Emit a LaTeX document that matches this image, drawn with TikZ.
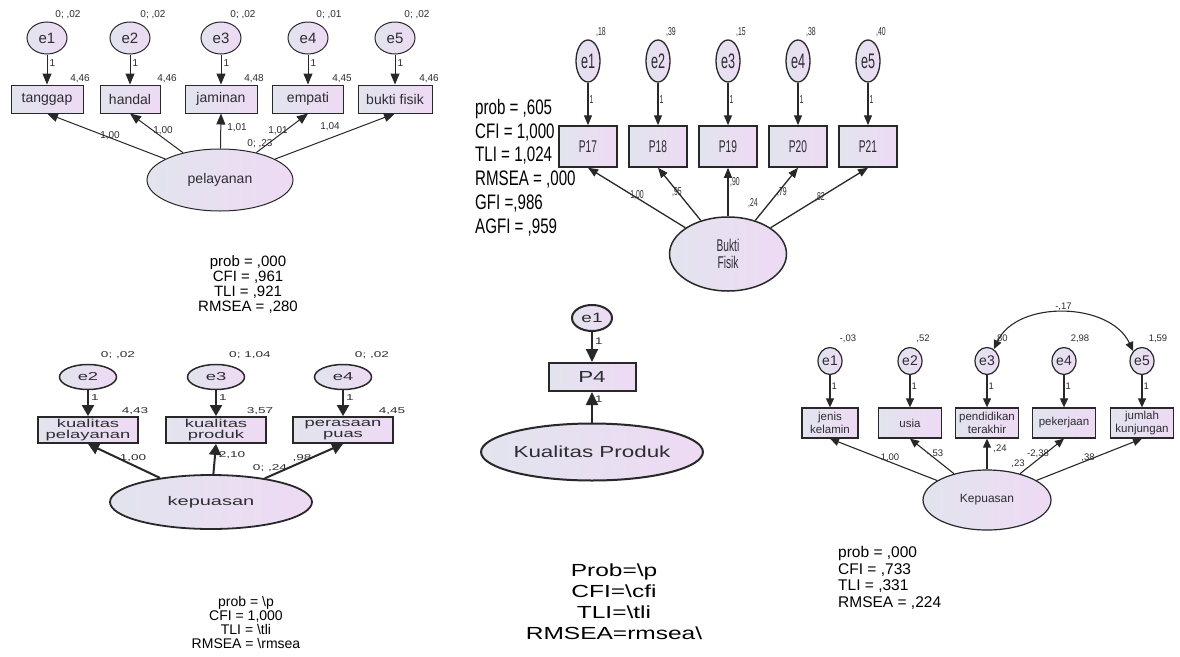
\documentclass[tikz,border=0pt]{standalone}
\usepackage{fontspec}
\setmainfont{Liberation Sans}
\newfontfamily\narrowfont[FakeStretch=0.72]{Liberation Sans}
\newfontfamily\condfont[FakeStretch=0.6]{Liberation Sans}
\newfontfamily\widefont[FakeStretch=1.6]{Liberation Sans}
\newfontfamily\semiwidefont[FakeStretch=1.4]{Liberation Sans}
\usepackage{xcolor}
\usetikzlibrary{arrows.meta,shapes.geometric}
\definecolor{fillL}{RGB}{226,228,238}
\definecolor{fillR}{RGB}{238,218,244}
\definecolor{ink}{RGB}{40,40,40}
\definecolor{txt}{RGB}{45,45,50}
\newcommand\fsz[2]{\fontsize{#1}{#2}\selectfont}

\begin{document}
\begin{tikzpicture}[
  x=1pt,y=-1pt,
  var/.style={ellipse,draw=ink,left color=fillL,right color=fillR,inner sep=0pt,text=txt},
  obs/.style={rectangle,draw=ink,left color=fillL,right color=fillR,inner sep=0pt,text=txt,align=center},
  num/.style={inner sep=0pt,text=txt},
  stats/.style={inner sep=0pt,text=black},
  errA/.style={var,line width=1pt,minimum width=40,minimum height=32,font=\fsz{15}{16}},
  obsA/.style={obs,line width=1pt,minimum height=28,font=\fsz{14}{15}},
  latA/.style={var,line width=1pt,minimum width=146,minimum height=62,font=\fsz{14}{15}},
  numA/.style={num,font=\fsz{10}{11}},
  edgeA/.style={-{Triangle[length=11pt,width=9pt]},line width=1pt,draw=ink},
  errB/.style={var,line width=1.3pt,minimum width=24,minimum height=42,font=\condfont\fsz{21}{22}},
  obsB/.style={obs,line width=1.5pt,minimum width=58,minimum height=41,font=\condfont\fsz{17}{18}},
  latB/.style={var,line width=1.5pt,minimum width=117,minimum height=74,align=center,font=\condfont\fsz{17}{17}},
  numB/.style={num,font=\condfont\fsz{11.5}{12}},
  edgeB/.style={-{Triangle[length=10pt,width=8pt]},line width=1.3pt,draw=ink},
  errC/.style={var,line width=1.5pt,minimum width=57,minimum height=25,font=\widefont\fsz{11.5}{12}},
  obsC/.style={obs,line width=1.8pt,minimum width=100,minimum height=26,font=\widefont\fsz{11.5}{11}},
  latC/.style={var,line width=1.8pt,minimum width=202,minimum height=54,font=\widefont\fsz{12.5}{14}},
  numC/.style={num,font=\widefont\fsz{8.5}{10}},
  edgeC/.style={-{Triangle[length=11pt,width=12pt]},line width=2pt,draw=ink},
  errD/.style={var,line width=2pt,minimum width=40,minimum height=26,font=\semiwidefont\fsz{13.5}{15}},
  obsD/.style={obs,line width=2pt,minimum width=87,minimum height=28,font=\semiwidefont\fsz{16}{18}},
  latD/.style={var,line width=2pt,minimum width=178,minimum height=57,font=\semiwidefont\fsz{16}{18}},
  numD/.style={num,font=\semiwidefont\fsz{9.5}{10}},
  edgeD/.style={-{Triangle[length=13pt,width=12pt]},line width=2pt,draw=ink},
  errE/.style={var,line width=1.2pt,minimum width=24,minimum height=27,font=\fsz{14}{15}},
  obsE/.style={obs,line width=1.3pt,minimum width=63,minimum height=30,font=\fsz{11.5}{13}},
  latE/.style={var,line width=1.2pt,minimum width=128,minimum height=60,font=\fsz{12}{13}},
  numE/.style={num,font=\fsz{9.5}{11}},
  edgeE/.style={-{Triangle[length=9pt,width=8pt]},line width=1.1pt,draw=ink},
  covE/.style={{Triangle[length=9pt,width=8pt]}-{Triangle[length=9pt,width=8pt]},line width=1.1pt,draw=ink}
]
  \useasboundingbox[fill=white] (0,0) rectangle (1180,656);

  % pelayanan
  \node[errA] (ple1) at (47,38) {e1};
  \node[errA] (ple2) at (130,38) {e2};
  \node[errA] (ple3) at (221,38) {e3};
  \node[errA] (ple4) at (308,38) {e4};
  \node[errA] (ple5) at (395,38) {e5};
  \node[obsA,minimum width=72] (plb1) at (47,99) {tanggap};
  \node[obsA,minimum width=60] (plb2) at (130,99) {handal};
  \node[obsA,minimum width=72] (plb3) at (221,99) {jaminan};
  \node[obsA,minimum width=71] (plb4) at (308,99) {empati};
  \node[obsA,minimum width=74] (plb5) at (395,99) {bukti fisik};
  \node[latA] (pllat) at (220,180) {pelayanan};
  \node[numA] (plv1) at (68,15) {0; ,02};
  \node[numA] (plv2) at (153,15) {0; ,02};
  \node[numA] (plv3) at (243,15) {0; ,02};
  \node[numA] (plv4) at (329,15) {0; ,01};
  \node[numA] (plv5) at (417,15) {0; ,02};
  \node[numA] (pli1) at (80,79) {4,46};
  \node[numA] (pli2) at (167,79) {4,46};
  \node[numA] (pli3) at (254,79) {4,48};
  \node[numA] (pli4) at (342,79) {4,45};
  \node[numA] (pli5) at (429,79) {4,46};
  \draw[edgeA] (ple1) -- node[numA,pos=0.3,right=2pt] (plo1) {1} (plb1);
  \draw[edgeA] (ple2) -- node[numA,pos=0.3,right=2pt] (plo2) {1} (plb2);
  \draw[edgeA] (ple3) -- node[numA,pos=0.3,right=2pt] (plo3) {1} (plb3);
  \draw[edgeA] (ple4) -- node[numA,pos=0.3,right=2pt] (plo4) {1} (plb4);
  \draw[edgeA] (ple5) -- node[numA,pos=0.3,right=2pt] (plo5) {1} (plb5);
  \draw[edgeA] (pllat) -- (plb1.south);
  \draw[edgeA] (pllat) -- (plb2.south);
  \draw[edgeA] (pllat) -- (plb3.south);
  \draw[edgeA] (pllat) -- (plb4.south);
  \draw[edgeA] (pllat) -- (plb5.south);
  \node[numA] (pll1) at (110,136) {1,00};
  \node[numA] (pll2) at (163,131) {1,00};
  \node[numA] (pll3) at (237,128) {1,01};
  \node[numA] (pll4) at (278,131) {1,01};
  \node[numA] (plvl) at (260,144) {0; ,23};
  \node[numA] (pll5) at (330,127) {1,04};
  \node[stats,align=center,font=\fsz{15}{15}] (plfit) at (248,285) {prob = ,000\\CFI = ,961\\TLI = ,921\\RMSEA = ,280};

  % bukti fisik
  \node[errB] (bfe1) at (588,61) {e1};
  \node[errB] (bfe2) at (658,61) {e2};
  \node[errB] (bfe3) at (728,61) {e3};
  \node[errB] (bfe4) at (798,61) {e4};
  \node[errB] (bfe5) at (868,61) {e5};
  \node[obsB] (bfb1) at (588,146.5) {P17};
  \node[obsB] (bfb2) at (658,146.5) {P18};
  \node[obsB] (bfb3) at (728,146.5) {P19};
  \node[obsB] (bfb4) at (798,146.5) {P20};
  \node[obsB] (bfb5) at (868,146.5) {P21};
  \node[latB] (bflat) at (728,254) {Bukti\\Fisik};
  \node[numB] (bfv1) at (601,32) {,18};
  \node[numB] (bfv2) at (671,32) {,39};
  \node[numB] (bfv3) at (741,32) {,15};
  \node[numB] (bfv4) at (811,32) {,38};
  \node[numB] (bfv5) at (881,32) {,40};
  \draw[edgeB] (bfe1) -- node[numB,pos=0.4,right=1pt] (bfo1) {1} (bfb1);
  \draw[edgeB] (bfe2) -- node[numB,pos=0.4,right=1pt] (bfo2) {1} (bfb2);
  \draw[edgeB] (bfe3) -- node[numB,pos=0.4,right=1pt] (bfo3) {1} (bfb3);
  \draw[edgeB] (bfe4) -- node[numB,pos=0.4,right=1pt] (bfo4) {1} (bfb4);
  \draw[edgeB] (bfe5) -- node[numB,pos=0.4,right=1pt] (bfo5) {1} (bfb5);
  \draw[edgeB] (bflat) -- (bfb1.south);
  \draw[edgeB] (bflat) -- (bfb2.south);
  \draw[edgeB] (bflat) -- (bfb3.south);
  \draw[edgeB] (bflat) -- (bfb4.south);
  \draw[edgeB] (bflat) -- (bfb5.south);
  \node[numB] (bfl1) at (637,195) {1,00};
  \node[numB] (bfl2) at (677,192) {,95};
  \node[numB] (bfl3) at (735,182) {,90};
  \node[numB] (bfvl) at (753,203) {,24};
  \node[numB] (bfl4) at (782,192) {,79};
  \node[numB] (bfl5) at (820,197) {,82};
  \node[stats,anchor=west,align=left,font=\narrowfont\fsz{21}{23.8}] (bffit) at (475,167.5) {prob = ,605\\CFI = 1,000\\TLI = 1,024\\RMSEA = ,000\\GFI =,986\\AGFI = ,959};

  % kepuasan
  \node[errC] (kpe2) at (88,377) {e2};
  \node[errC] (kpe3) at (216,377) {e3};
  \node[errC] (kpe4) at (343,377) {e4};
  \node[obsC] (kpb2) at (88,430) {kualitas\\pelayanan};
  \node[obsC] (kpb3) at (216,430) {kualitas\\produk};
  \node[obsC] (kpb4) at (343,430) {perasaan\\puas};
  \node[latC] (kplat) at (211,502) {kepuasan};
  \node[numC] (kpv2) at (118,355) {0; ,02};
  \node[numC] (kpv3) at (250,355) {0; 1,04};
  \node[numC] (kpv4) at (372,355) {0; ,02};
  \node[numC] (kpi2) at (135,411) {4,43};
  \node[numC] (kpi3) at (260,411) {3,57};
  \node[numC] (kpi4) at (392,411) {4,45};
  \draw[edgeC] (kpe2) -- node[numC,pos=0.3,right=2pt] (kpo2) {1} (kpb2);
  \draw[edgeC] (kpe3) -- node[numC,pos=0.3,right=2pt] (kpo3) {1} (kpb3);
  \draw[edgeC] (kpe4) -- node[numC,pos=0.3,right=2pt] (kpo4) {1} (kpb4);
  \draw[edgeC] (kplat) -- (kpb2.south);
  \draw[edgeC] (kplat) -- (kpb3.south);
  \draw[edgeC] (kplat) -- (kpb4.south);
  \node[numC] (kpl2) at (133,458) {1,00};
  \node[numC] (kpl3) at (232,455) {2,10};
  \node[numC] (kpl4) at (302,458) {,98};
  \node[numC] (kpvl) at (270,468) {0; ,24};
  \node[stats,align=center,font=\fsz{14}{14}] (kpfit) at (246,622) {prob = \textbackslash p\\CFI = 1,000\\TLI = \textbackslash tli\\RMSEA = \textbackslash rmsea};

  % kualitas produk
  \node[errD] (kqe1) at (592,318) {e1};
  \node[obsD] (kqb4) at (592,377) {P4};
  \node[latD] (kqlat) at (592,452) {Kualitas Produk};
  \draw[edgeD] (kqe1) -- node[numD,pos=0.3,right=2pt] (kqo1) {1} (kqb4);
  \draw[edgeD] (kqlat) -- node[numD,pos=0.75,right=2pt] (kql1) {1} (kqb4);
  \node[stats,align=center,font=\semiwidefont\fsz{17.5}{21}] (kqfit) at (614,602) {Prob=\textbackslash p\\CFI=\textbackslash cfi\\TLI=\textbackslash tli\\RMSEA=rmsea\textbackslash};

  % kepuasan (demografi)
  \node[errE] (kde1) at (830,361) {e1};
  \node[errE] (kde2) at (910,361) {e2};
  \node[errE] (kde3) at (987,361) {e3};
  \node[errE] (kde4) at (1064,361) {e4};
  \node[errE] (kde5) at (1142,361) {e5};
  \node[obsE,minimum width=56] (kdb1) at (830,423) {jenis\\kelamin};
  \node[obsE] (kdb2) at (910,423) {usia};
  \node[obsE] (kdb3) at (987,423) {pendidikan\\terakhir};
  \node[obsE] (kdb4) at (1064,423) {pekerjaan};
  \node[obsE] (kdb5) at (1142,423) {jumlah\\kunjungan};
  \node[latE] (kdlat) at (987,500) {Kepuasan};
  \node[numE] (kdv1) at (848,339) {-,03};
  \node[numE] (kdv2) at (923,339) {,52};
  \node[numE] (kdv3) at (1001,339) {,80};
  \node[numE] (kdv4) at (1080,339) {2,98};
  \node[numE] (kdv5) at (1158,339) {1,59};
  \draw[covE] (kde3.60) to[out=65,in=115] node[numE,above=2pt] (kdc) {-,17} (kde5.north west);
  \draw[edgeE] (kde1) -- node[numE,pos=0.35,right=1pt] (kdo1) {1} (kdb1);
  \draw[edgeE] (kde2) -- node[numE,pos=0.35,right=1pt] (kdo2) {1} (kdb2);
  \draw[edgeE] (kde3) -- node[numE,pos=0.35,right=1pt] (kdo3) {1} (kdb3);
  \draw[edgeE] (kde4) -- node[numE,pos=0.35,right=1pt] (kdo4) {1} (kdb4);
  \draw[edgeE] (kde5) -- node[numE,pos=0.35,right=1pt] (kdo5) {1} (kdb5);
  \draw[edgeE] (kdlat) -- (kdb1.south);
  \draw[edgeE] (kdlat) -- (kdb2.south);
  \draw[edgeE] (kdlat) -- (kdb3.south);
  \draw[edgeE] (kdlat) -- (kdb4.south);
  \draw[edgeE] (kdlat) -- (kdb5.south);
  \node[numE] (kdl1) at (890,458) {1,00};
  \node[numE] (kdl2) at (935,454) {-,53};
  \node[numE] (kdl3) at (1000,449) {,24};
  \node[numE] (kdvl) at (1018,464) {,23};
  \node[numE] (kdl4) at (1038,454) {-2,38};
  \node[numE] (kdl5) at (1088,458) {,38};
  \node[stats,anchor=west,align=left,font=\fsz{15.5}{16.7}] (kdfit) at (838,578) {prob = ,000\\CFI = ,733\\TLI = ,331\\RMSEA = ,224};
\end{tikzpicture}
\end{document}
